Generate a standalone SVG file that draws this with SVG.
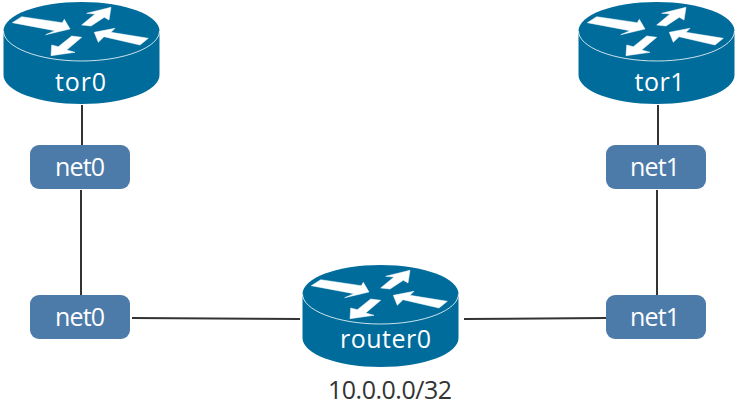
<svg xmlns="http://www.w3.org/2000/svg" width="737" height="409" viewBox="0 0 737 409">
<style>
.lbl{font-family:"Open Sans","Noto Sans","Liberation Sans",sans-serif;font-size:25px;fill:#fff;text-anchor:middle}
.addr{font-family:"Open Sans","Noto Sans","Liberation Sans",sans-serif;font-size:25px;fill:#333;text-anchor:middle}
.box{fill:#4d7ba9}
.body{fill:#006c9c}
.edge{fill:none;stroke:#333;stroke-width:2}
.rim{fill:none;stroke:#fff;stroke-width:.8}
.arr{fill:#fff;stroke:#fff;stroke-width:.5}
</style>
<defs>
<g id="router">
<path class="body" d="M3.500 31C3.500 15 38 2 81.500 2S159.500 15 159.500 31V75C159.500 91 125 104 81.500 104S3.500 91 3.500 75Z"/>
<path class="rim" d="M3.500 31C3.500 47 38 61 81.500 61S159.500 47 159.500 31"/>
<polygon class="arr" points="12.300,22.700 21.700,16.700 62.300,22.700 64.300,19.300 70,29 45.700,34.700 55,30.700"/>
<polygon class="arr" points="81.700,25 95,14 86.700,13.300 111,7.300 109,20 104.300,17.300 91,26"/>
<polygon class="arr" points="94.300,32.300 115,28.300 111,32.300 148.300,38.300 140,45 104,36.700 98.300,42.300"/>
<polygon class="arr" points="51,55.700 51.700,45 58.300,46.700 71.700,36 81.700,37.300 66.700,50 75,52.300"/>
</g>
</defs>
<g id="connectors">
<path class="edge" d="M82 105V146"/>
<path class="edge" d="M81 190V295"/>
<path class="edge" d="M132 318L300 319"/>
<path class="edge" d="M658 105V146"/>
<path class="edge" d="M657 190V295"/>
<path class="edge" d="M464 319L606 318"/>
</g>
<g id="tor0"><use href="#router"/><text class="lbl" x="80.500" y="91" textLength="51">tor0</text></g>
<g id="tor1"><use href="#router" x="575"/><text class="lbl" x="659.500" y="91" textLength="50">tor1</text></g>
<g id="router0"><use href="#router" x="299" y="263"/><text class="lbl" x="385.500" y="348" textLength="91">router0</text></g>
<g id="net0a"><rect class="box" x="30" y="145" width="100" height="44" rx="9"/><text class="lbl" x="80" y="176" textLength="50">net0</text></g>
<g id="net0b"><rect class="box" x="30" y="295" width="100" height="44" rx="9"/><text class="lbl" x="80" y="326" textLength="50">net0</text></g>
<g id="net1a"><rect class="box" x="606" y="145" width="100" height="44" rx="9"/><text class="lbl" x="655" y="176" textLength="50">net1</text></g>
<g id="net1b"><rect class="box" x="606" y="295" width="100" height="44" rx="9"/><text class="lbl" x="655" y="326" textLength="50">net1</text></g>
<text class="addr" x="390" y="399" textLength="124">10.0.0.0/32</text>
</svg>
